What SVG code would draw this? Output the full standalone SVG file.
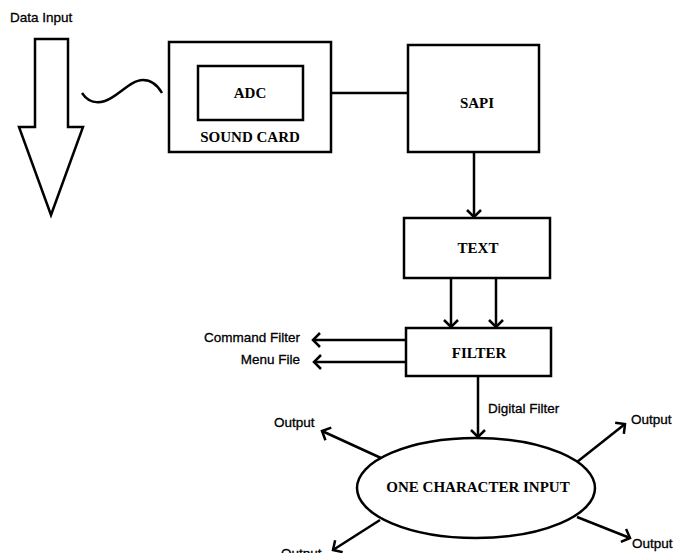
<svg xmlns="http://www.w3.org/2000/svg" width="674" height="553" viewBox="0 0 674 553">
  <style>
    .box { fill: #fff; stroke: #000; stroke-width: 2.5; }
    .ln { fill: none; stroke: #000; stroke-width: 2.5; }
    .lbl { font-family: "Liberation Serif", "Times New Roman", serif; font-weight: bold; font-size: 15px; fill: #000; text-anchor: middle; }
    .note { font-family: "Liberation Sans", Arial, sans-serif; font-size: 13.5px; fill: #000; stroke: #000; stroke-width: 0.3; }
  </style>
  <defs>
    <marker id="chev" viewBox="-10 -10 20 20" markerWidth="20" markerHeight="20" refX="0" refY="0" orient="auto" markerUnits="userSpaceOnUse">
      <path d="M-7,-7 L0,0 L-7,7" fill="none" stroke="#000" stroke-width="2.5"/>
    </marker>
  </defs>
  <rect width="674" height="553" fill="#fff"/>

  <!-- Data input: label, block arrow and signal wave -->
  <g id="data-input">
    <text class="note" x="10" y="22">Data Input</text>
    <path class="ln" stroke-width="2" d="M35,39 H68 V127 H83 L51,215 L19,127 H35 Z"/>
    <path class="ln" stroke-width="2" d="M82,93 C88,102 95,104 105,101 C118,97 130,80 143,80 C152,80 158,86 162,93"/>
  </g>

  <g id="sound-card">
    <rect class="box" x="169" y="42" width="162" height="110"/>
    <text class="lbl" x="250" y="142">SOUND CARD</text>
  </g>

  <g id="adc">
    <rect class="box" x="198" y="66" width="105" height="54"/>
    <text class="lbl" x="250" y="98">ADC</text>
  </g>

  <g id="sapi">
    <rect class="box" x="408" y="45" width="131" height="107"/>
    <text class="lbl" x="477" y="108">SAPI</text>
  </g>

  <g id="text-node">
    <rect class="box" x="404" y="218" width="146" height="60"/>
    <text class="lbl" x="478" y="253">TEXT</text>
  </g>

  <g id="filter">
    <rect class="box" x="406" y="328" width="145" height="48"/>
    <text class="lbl" x="479" y="358">FILTER</text>
  </g>

  <g id="one-char-input">
    <ellipse class="box" cx="476" cy="488" rx="119" ry="50"/>
    <text class="lbl" x="478" y="492">ONE CHARACTER INPUT</text>
  </g>

  <g id="connectors">
    <line class="ln" x1="331" y1="93" x2="408" y2="93"/>
    <line class="ln" x1="474" y1="152" x2="474" y2="217" marker-end="url(#chev)"/>
    <line class="ln" x1="451" y1="278" x2="451" y2="327" marker-end="url(#chev)"/>
    <line class="ln" x1="496" y1="278" x2="496" y2="327" marker-end="url(#chev)"/>
    <line class="ln" x1="406" y1="340" x2="313" y2="340" marker-end="url(#chev)"/>
    <line class="ln" x1="406" y1="362" x2="314" y2="362" marker-end="url(#chev)"/>
    <line class="ln" x1="478" y1="376" x2="478" y2="437" marker-end="url(#chev)"/>
    <line class="ln" x1="381" y1="458" x2="322" y2="431" marker-end="url(#chev)"/>
    <line class="ln" x1="577" y1="462" x2="625" y2="424" marker-end="url(#chev)"/>
    <line class="ln" x1="380" y1="520" x2="333" y2="550" marker-end="url(#chev)"/>
    <line class="ln" x1="577" y1="517" x2="630" y2="538" marker-end="url(#chev)"/>
  </g>

  <g id="labels">
    <text class="note" x="300" y="342" text-anchor="end">Command Filter</text>
    <text class="note" x="300" y="364" text-anchor="end">Menu File</text>
    <text class="note" x="488" y="413">Digital Filter</text>
    <text class="note" x="274" y="427">Output</text>
    <text class="note" x="631" y="424">Output</text>
    <text class="note" x="281" y="558">Output</text>
    <text class="note" x="632" y="548">Output</text>
  </g>
</svg>
